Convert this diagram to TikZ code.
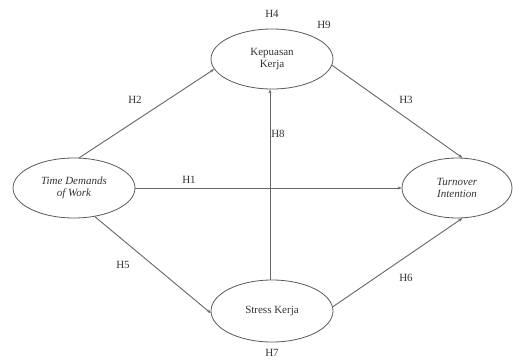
\documentclass[tikz,border=0pt]{standalone}
\usepackage{fontspec}
\setmainfont{Liberation Serif}
\usetikzlibrary{shapes.geometric,arrows.meta}
\begin{document}
\begin{tikzpicture}[x=1pt,y=-1pt,
  var/.style={ellipse,draw=black!65,line width=0.8pt,minimum width=122pt,minimum height=60pt,inner sep=0pt,align=center,font=\fontsize{11}{12}\selectfont,text=black!80},
  conn/.style={draw=black!60,line width=0.9pt,-{Stealth[length=4pt,width=3pt]}},
  lab/.style={font=\fontsize{11}{12}\selectfont,text=black!80,inner sep=0pt}]
\useasboundingbox[fill=white] (0,0) rectangle (513,361);
\node[var] (kep) at (272,59) {Kepuasan\\Kerja};
\node[var] (time) at (74,188) {\itshape Time Demands\\\itshape of Work};
\node[var,minimum width=110pt] (tur) at (457,188) {\itshape Turnover\\\itshape Intention};
\node[var,minimum height=62pt] (str) at (272,311) {Stress Kerja};
\draw[conn] (time.80) -- (kep.190);
\draw[conn] (kep.-6) -- (tur.80);
\draw[conn] (time.east) -- (tur.west);
\draw[conn] ([xshift=-2pt]str.north) -- ([xshift=-2pt]kep.south);
\draw[conn] (time.-54) -- (str.182);
\draw[conn] (str.4) -- (tur.-80);
\node[lab] (h4) at (272,14) {H4};
\node[lab] (h9) at (324,25) {H9};
\node[lab] (h2) at (135,100) {H2};
\node[lab] (h3) at (406,100) {H3};
\node[lab] (h8) at (278,134) {H8};
\node[lab] (h1) at (189,180) {H1};
\node[lab] (h5) at (123,265) {H5};
\node[lab] (h6) at (406,278) {H6};
\node[lab] (h7) at (272,353) {H7};
\end{tikzpicture}
\end{document}
